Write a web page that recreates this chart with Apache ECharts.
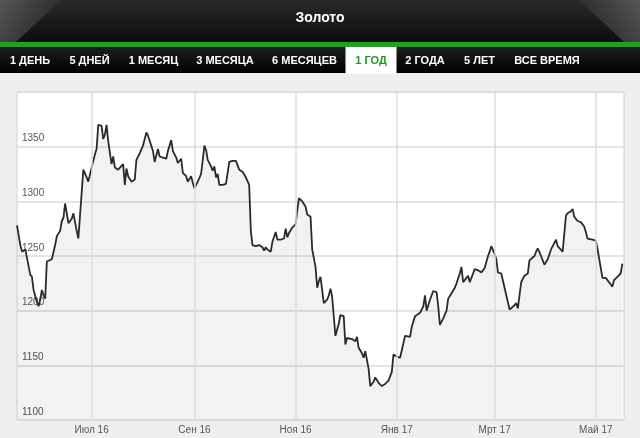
<!DOCTYPE html>
<html>
<head>
<meta charset="utf-8">
<script src="https://cdn.jsdelivr.net/npm/echarts@6/dist/echarts.min.js"></script>
<style>
html,body{margin:0;padding:0;background:#efefef;}
#c{width:640px;height:438px;}
</style>
</head>
<body>
<div id="c"></div>
<script>
const chartTitle = 'Золото';
const tabLabels = ['1 ДЕНЬ','5 ДНЕЙ','1 МЕСЯЦ','3 МЕСЯЦА','6 МЕСЯЦЕВ','1 ГОД','2 ГОДА','5 ЛЕТ','ВСЕ ВРЕМЯ'];
const activeTab = '1 ГОД';
const xTickDates = ['2016-07-01','2016-09-01','2016-11-01','2017-01-01','2017-03-01','2017-05-01'];
const xTickLabels = ['Июл 16','Сен 16','Ноя 16','Янв 17','Мрт 17','Май 17'];
const xRange = ['2016-05-17','2017-05-18'];
const yTicks = [1100,1150,1200,1250,1300,1350,1400];

const dates = [
'2016-05-17','2016-05-19','2016-05-20','2016-05-22','2016-05-23','2016-05-25','2016-05-26','2016-05-27','2016-05-29','2016-05-30','2016-05-31',
'2016-06-01','2016-06-02','2016-06-03','2016-06-04','2016-06-05','2016-06-07','2016-06-09','2016-06-10','2016-06-12','2016-06-13','2016-06-14','2016-06-15','2016-06-17','2016-06-19','2016-06-20','2016-06-22','2016-06-23','2016-06-26','2016-06-28','2016-06-29',
'2016-07-01','2016-07-03','2016-07-04','2016-07-05','2016-07-07','2016-07-08','2016-07-09','2016-07-10','2016-07-11','2016-07-13','2016-07-14','2016-07-15','2016-07-17','2016-07-20','2016-07-21','2016-07-22','2016-07-23','2016-07-25','2016-07-27','2016-07-28','2016-07-30',
'2016-08-01','2016-08-03','2016-08-04','2016-08-05','2016-08-07','2016-08-08','2016-08-10','2016-08-11','2016-08-13','2016-08-15','2016-08-16','2016-08-18','2016-08-19','2016-08-21','2016-08-22','2016-08-24','2016-08-25','2016-08-27','2016-08-28','2016-08-30','2016-08-31',
'2016-09-01','2016-09-03','2016-09-05','2016-09-07','2016-09-08','2016-09-09','2016-09-11','2016-09-12','2016-09-13','2016-09-14','2016-09-15','2016-09-16','2016-09-18','2016-09-20','2016-09-22','2016-09-24','2016-09-26','2016-09-28','2016-09-30',
'2016-10-02','2016-10-04','2016-10-05','2016-10-06','2016-10-08','2016-10-10','2016-10-12','2016-10-13','2016-10-14','2016-10-15','2016-10-17','2016-10-18','2016-10-20','2016-10-21','2016-10-23','2016-10-25','2016-10-26','2016-10-27','2016-10-28','2016-10-30',
'2016-11-01','2016-11-02','2016-11-03','2016-11-05','2016-11-07','2016-11-08','2016-11-09','2016-11-10','2016-11-11','2016-11-13','2016-11-14','2016-11-15','2016-11-16','2016-11-18','2016-11-20','2016-11-21','2016-11-22','2016-11-23','2016-11-25','2016-11-27','2016-11-28','2016-11-30',
'2016-12-01','2016-12-02','2016-12-05','2016-12-06','2016-12-07','2016-12-08','2016-12-09','2016-12-11','2016-12-12','2016-12-13','2016-12-15','2016-12-16','2016-12-18','2016-12-19','2016-12-21','2016-12-23','2016-12-25','2016-12-27','2016-12-29','2016-12-30',
'2017-01-01','2017-01-03','2017-01-06','2017-01-07','2017-01-09','2017-01-10','2017-01-12','2017-01-13','2017-01-15','2017-01-17','2017-01-18','2017-01-19','2017-01-21','2017-01-23','2017-01-25','2017-01-26','2017-01-27','2017-01-29','2017-01-31',
'2017-02-01','2017-02-03','2017-02-05','2017-02-06','2017-02-08','2017-02-09','2017-02-10','2017-02-12','2017-02-13','2017-02-14','2017-02-15','2017-02-17','2017-02-19','2017-02-21','2017-02-22','2017-02-23','2017-02-25','2017-02-26','2017-02-27',
'2017-03-01','2017-03-02','2017-03-03','2017-03-05','2017-03-06','2017-03-10','2017-03-11','2017-03-13','2017-03-14','2017-03-15','2017-03-17','2017-03-18','2017-03-19','2017-03-21','2017-03-22','2017-03-23','2017-03-25','2017-03-26','2017-03-27','2017-03-29','2017-03-31',
'2017-04-02','2017-04-04','2017-04-05','2017-04-07','2017-04-08','2017-04-11','2017-04-13','2017-04-14','2017-04-16','2017-04-17','2017-04-18','2017-04-19','2017-04-20','2017-04-22','2017-04-24','2017-04-25','2017-04-26','2017-04-27','2017-04-29',
'2017-05-01','2017-05-02','2017-05-04','2017-05-05','2017-05-07','2017-05-08','2017-05-10','2017-05-11','2017-05-12','2017-05-14','2017-05-16','2017-05-17'
];
const prices = [
1278,1260,1254,1256,1255,1233,1231,1219,1208,1204,1210,
1219,1214,1211,1245,1244,1247,1260,1268,1273,1282,1285,1298,1280,1284,1289,1273,1266,1329,1322,1318,
1331,1343,1348,1370,1369,1357,1361,1370,1355,1334,1341,1331,1329,1334,1315,1330,1323,1318,1320,1338,1344,
1351,1363,1360,1361,1346,1336,1348,1341,1340,1339,1346,1356,1346,1340,1335,1339,1326,1323,1318,1323,1317,
1312,1318,1325,1351,1347,1338,1332,1328,1332,1322,1325,1315,1315,1316,1336,1337,1337,1329,1327,
1322,1315,1273,1260,1259,1260,1258,1255,1258,1256,1254,1263,1272,1265,1265,1266,1275,1267,1271,1276,
1279,1292,1303,1300,1295,1288,1289,1286,1256,1240,1221,1227,1231,1207,1210,1214,1220,1213,1177,1188,1196,1195,
1169,1175,1174,1175,1172,1176,1166,1161,1157,1163,1147,1131,1135,1139,1134,1131,1133,1136,1144,1160,
1158,1157,1177,1178,1176,1185,1195,1194,1198,1204,1214,1200,1210,1218,1217,1204,1187,1193,1200,
1211,1216,1221,1225,1234,1240,1226,1230,1232,1226,1227,1238,1237,1235,1235,1239,1250,1254,1259,
1252,1247,1235,1234,1234,1201,1202,1205,1207,1202,1226,1229,1232,1234,1246,1245,1250,1254,1257,1250,1242,
1247,1256,1256,1265,1259,1254,1287,1289,1291,1293,1286,1287,1282,1281,1277,1272,1266,1266,1265,
1264,1257,1239,1230,1230,1231,1224,1222,1228,1231,1234,1243
];

// layout (positions of header tabs), kept apart from the data
const tabCenters = [30, 89.5, 153.5, 225, 304.5, 371, 425, 479.5, 547];

function toTime(s){ const p = s.split('-').map(Number); return new Date(p[0], p[1]-1, p[2]).getTime(); }

const seriesData = dates.map((d,i)=>[toTime(d), prices[i]]);
const tickTimes = xTickDates.map(toTime);

const FONT = '"Liberation Sans", Arial, sans-serif';
const graphics = [
  {type:'rect', shape:{x:0,y:0,width:640,height:42}, style:{fill:new echarts.graphic.LinearGradient(0,0,0,1,[{offset:0,color:'#2a2a2a'},{offset:1,color:'#0c0c0c'}])}, silent:true},
  {type:'polygon', shape:{points:[[0,0],[61,0],[16,42],[0,42]]}, style:{fill:new echarts.graphic.LinearGradient(0,0,1,1,[{offset:0,color:'#555555'},{offset:1,color:'#1e1e1e'}])}, silent:true},
  {type:'polygon', shape:{points:[[640,0],[579,0],[624,42],[640,42]]}, style:{fill:new echarts.graphic.LinearGradient(1,0,0,1,[{offset:0,color:'#555555'},{offset:1,color:'#1e1e1e'}])}, silent:true},
  {type:'text', x:320, y:18.5, style:{text:chartTitle, fill:'#ffffff', font:'bold 14px '+FONT, align:'center', verticalAlign:'middle'}, silent:true},
  {type:'rect', shape:{x:0,y:42,width:640,height:5}, style:{fill:'#1ba41b'}, silent:true},
  {type:'rect', shape:{x:0,y:47,width:640,height:26}, style:{fill:new echarts.graphic.LinearGradient(0,0,0,1,[{offset:0,color:'#1e1e1e'},{offset:1,color:'#000000'}])}, silent:true}
];
tabLabels.forEach((t,i)=>{
  const active = t === activeTab;
  if (active) {
    graphics.push({type:'rect', shape:{x:tabCenters[i]-25.5, y:47, width:51, height:27}, style:{fill:'#ffffff'}, silent:true});
  }
  graphics.push({type:'text', x:tabCenters[i], y:60.5, style:{text:t, fill: active ? '#1f9a1f' : '#ffffff', font:'bold 11px '+FONT, align:'center', verticalAlign:'middle'}, silent:true});
});

const chart = echarts.init(document.getElementById('c'), null, {renderer:'canvas'});
chart.setOption({
  animation:false,
  backgroundColor:'#efefef',
  graphic: graphics,
  grid:{left:17, top:92, width:607, height:328, show:true, backgroundColor:'#ffffff', borderColor:'#d2d2d2', borderWidth:1},
  xAxis:{
    type:'time',
    min: toTime(xRange[0]), max: toTime(xRange[1]),
    axisLine:{show:false}, axisTick:{show:false}, axisLabel:{show:false}, splitLine:{show:false}
  },
  yAxis:{
    type:'value', min:yTicks[0], max:yTicks[yTicks.length-1], interval:50,
    axisLine:{show:false}, axisTick:{show:false},
    axisLabel:{inside:true, margin:5, verticalAlign:'bottom', padding:[0,0,3,0], color:'#555', fontSize:10, fontFamily:FONT,
      formatter: v => v === yTicks[yTicks.length-1] ? '' : String(v)},
    splitLine:{lineStyle:{color:'#dcdcdc', width:1.5}}
  },
  series:[
    {
      type:'line', data: [], silent:true, z:1,
      markLine:{
        silent:true, symbol:['none','none'], animation:false,
        lineStyle:{color:'#dcdcdc', width:1.5, type:'solid'},
        label:{show:true, position:'start', distance:5, color:'#555', fontSize:10, fontFamily:FONT,
          formatter: p => xTickLabels[p.dataIndex]},
        data: tickTimes.map(t => ({xAxis: t}))
      }
    },
    {
      type:'line', data: seriesData, showSymbol:false, symbol:'none',
      lineStyle:{color:'#2a2a2a', width:1.8},
      areaStyle:{origin:'start', color:'rgba(0,0,0,0.075)'},
      z:3
    }
  ]
});
</script>
</body>
</html>
